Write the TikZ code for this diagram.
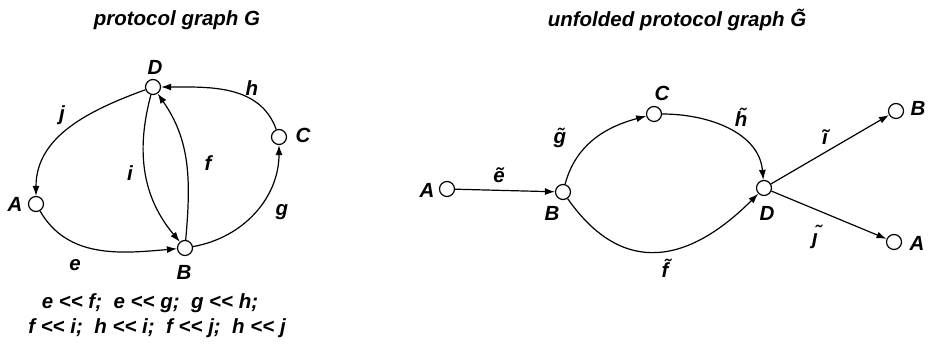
\documentclass[tikz,border=0pt]{standalone}
\usepackage{fontspec}
\setmainfont{Liberation Sans}
\usepackage{tikz}
\usetikzlibrary{arrows.meta}
\tikzset{>={Latex[length=10pt,width=7pt]}}
\tikzset{vertex/.style={circle,draw,fill=white,line width=1.2pt,minimum size=15pt,inner sep=0pt},
  txt/.style={font=\fontsize{20.5}{24}\selectfont\bfseries\itshape,inner sep=1pt},
  arc/.style={->,line width=1.2pt}}
\newcommand{\before}{<\kern0pt<}

\begin{document}
\begin{tikzpicture}[x=1pt,y=1pt]
      \useasboundingbox (0,0) rectangle (933,344);
      \node[txt] (t1) at (177,324) {protocol graph G};
      \node[vertex] (D) at (153,257) {};
      \node[vertex] (C) at (279,207) {};
      \node[vertex] (A) at (36,140) {};
      \node[vertex] (B) at (185,96) {};
      \node[txt] (nD) at (155,277) {D};
      \node[txt] (nC) at (303,209) {C};
      \node[txt] (nA) at (15,140) {A};
      \node[txt] (nB) at (184,72) {B};
      \draw[arc] (D) to[out=200,in=90] (A);
      \draw[arc] (A) to[out=-60,in=185] (B);
      \draw[arc] (D) to[out=-105,in=130] (B);
      \draw[arc] (B) to[out=85,in=-55] (D);
      \draw[arc] (B) to[out=10,in=-90] (C);
      \draw[arc] (C) to[out=110,in=0] (D);
      \node[txt] (lj) at (62,229) {j};
      \node[txt] (le) at (75,79) {e};
      \node[txt] (li) at (130,171) {i};
      \node[txt] (lf) at (208,181) {f};
      \node[txt] (lg) at (282,132) {g};
      \node[txt] (lh) at (252,256) {h};
      \node[txt] (r1) at (150,41) {e \before{} f;~ e \before{} g;~ g \before{} h;};
      \node[txt] (r2) at (157,16) {f \before{} i;~ h \before{} i;~ f \before{} j;~ h \before{} j};
      \node[txt] (t2) at (677,324) {unfolded protocol graph \~{G}};
      \node[vertex] (A1) at (447,155) {};
      \node[vertex] (B1) at (563,152) {};
      \node[vertex] (C1) at (654,230) {};
      \node[vertex] (D1) at (764,156) {};
      \node[vertex] (B2) at (896,233) {};
      \node[vertex] (A2) at (894,102) {};
      \node[txt] (nA1) at (427,154) {A};
      \node[txt] (nB1) at (552,131) {B};
      \node[txt] (nC1) at (662,251) {C};
      \node[txt] (nD1) at (767,131) {D};
      \node[txt] (nB2) at (918,236) {B};
      \node[txt] (nA2) at (917,101) {A};
      \draw[arc] (A1) -- (B1);
      \draw[arc] (B1) to[out=75,in=195] (C1);
      \draw[arc] (C1) to[out=0,in=95] (D1);
      \draw[arc] (B1) to[out=-55,in=-135,looseness=1.3] (D1);
      \draw[arc] (D1) -- (B2);
      \draw[arc] (D1) -- (A2);
      \node[txt] (le1) at (499,169) {\~{e}};
      \node[txt] (lg1) at (560,206) {\~{g}};
      \node[txt] (lh1) at (741,227) {\~{h}};
      \node[txt] (lf1) at (665,76) {\~{f}};
      \node[txt] (li1) at (825,207) {\~{\i}};
      \node[txt] (lj1) at (815,107) {\~{\j}};
    \end{tikzpicture}
\end{document}
